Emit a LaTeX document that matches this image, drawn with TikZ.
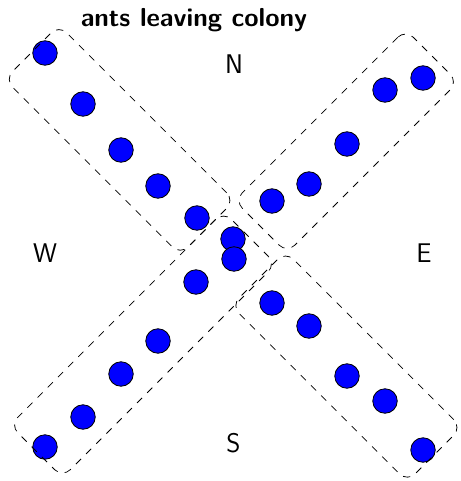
\documentclass[tikz,border=0pt]{standalone}
\begin{document}
\begin{tikzpicture}[x=1pt,y=-1pt,
  ant/.style={circle,draw=black,fill=blue,line width=0.8pt,minimum size=24.5pt,inner sep=0pt},
  group/.style={rectangle,draw=black,dash pattern=on 7.2pt off 7.2pt,line width=0.75pt,rounded corners=11pt,inner sep=0pt,outer sep=0pt},
  dirlabel/.style={font=\fontsize{27}{30}\selectfont\sffamily},
  titlelabel/.style={font=\fontsize{26}{30}\selectfont\sffamily\bfseries,anchor=base}]
\useasboundingbox (0,0) rectangle (460,481);
% title and compass labels
\node[titlelabel] (title) at (194,26.7) {ants leaving colony};
\node[dirlabel] (N) at (234,64.5) {N};
\node[dirlabel] (W) at (45,253) {W};
\node[dirlabel] (E) at (424,253.5) {E};
\node[dirlabel] (S) at (233.5,443.5) {S};
% NW ants
\node[ant] (nw1) at (45,53) {};
\node[ant] (nw2) at (83,104) {};
\node[ant] (nw3) at (121,150) {};
\node[ant] (nw4) at (158,186) {};
\node[ant] (nw5) at (197,218) {};
% NE ants
\node[ant] (ne1) at (272,201) {};
\node[ant] (ne2) at (309,184) {};
\node[ant] (ne3) at (347,144) {};
\node[ant] (ne4) at (385,90) {};
\node[ant] (ne5) at (423,78) {};
% SE ants
\node[ant] (se1) at (272,303) {};
\node[ant] (se2) at (309,326) {};
\node[ant] (se3) at (347,376) {};
\node[ant] (se4) at (385,401) {};
\node[ant] (se5) at (423,450) {};
% SW ants
\node[ant] (sw1) at (196,282) {};
\node[ant] (sw2) at (158,341) {};
\node[ant] (sw3) at (121,374) {};
\node[ant] (sw4) at (83,417) {};
\node[ant] (sw5) at (45,447) {};
% colony ants
\node[ant] (c1) at (233,239) {};
\node[ant] (c2) at (234,259) {};
% group boxes
\node[group,rotate=-45,minimum width=248.2pt,minimum height=76.7pt] (nwbox) at (119.6,139.9) {};
\node[group,rotate=-45,minimum width=248.9pt,minimum height=76.7pt] (sebox) at (346.4,366.6) {};
\node[group,rotate=45,minimum width=241.8pt,minimum height=74.2pt] (nebox) at (346.25,141.25) {};
\node[group,rotate=45,minimum width=301.9pt,minimum height=74.2pt] (swbox) at (143,344.5) {};
\end{tikzpicture}
\end{document}
